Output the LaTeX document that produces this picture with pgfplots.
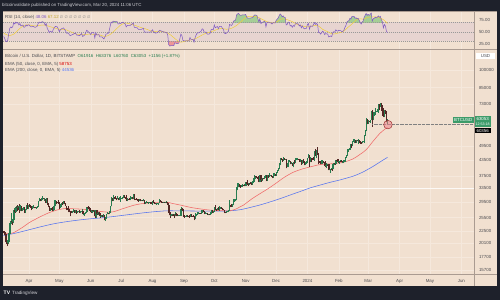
\documentclass[border=0pt]{standalone}
\usepackage{fontspec}
\setmainfont{Liberation Sans}
\newfontfamily\dejavu{DejaVu Sans}
\usepackage{pgfplots}
\pgfplotsset{compat=1.18}
\usepackage{pgfplotstable}
\definecolor{frame}{RGB}{30,33,43}
\definecolor{bg}{RGB}{241,224,208}
\definecolor{gridc}{RGB}{245,232,220}
\definecolor{sepc}{RGB}{170,155,145}
\definecolor{txt}{RGB}{75,75,80}
\definecolor{upc}{RGB}{40,125,80}
\definecolor{dnc}{RGB}{85,40,38}
\definecolor{emar}{RGB}{240,105,105}
\definecolor{emab}{RGB}{85,115,240}
\definecolor{rsic}{RGB}{126,87,194}
\definecolor{smac}{RGB}{240,205,60}
\definecolor{bandc}{RGB}{231,212,208}
\definecolor{lblg}{RGB}{60,155,105}
\definecolor{obc}{RGB}{165,205,150}
\definecolor{osc}{RGB}{238,150,150}
\definecolor{circd}{RGB}{150,40,40}
\definecolor{circf}{RGB}{240,130,140}
\definecolor{toptxt}{RGB}{205,205,210}
\definecolor{bottxt}{RGB}{215,215,220}

\pgfplotstableread{
d o h l c
-25 22420 22550 21930 22200
-24 22200 22270 21600 21700
-23 21700 21830 19960 20360
-22 20360 20370 19570 20190
-21 20190 20800 19900 20630
-20 20630 22200 20400 22160
-19 22160 24500 21900 24200
-18 24200 26500 24100 24750
-17 24750 25250 23900 24380
-16 24380 25200 24200 25050
-15 25050 27750 25000 27450
-14 27450 27730 26640 26970
-13 26970 28470 26900 28040
-12 28040 28530 27160 27800
-11 27800 28470 27360 28180
-10 28180 28830 26640 27300
-9 27300 28770 27160 28330
-8 28330 28380 27030 27490
-7 27490 27800 27160 27490
-6 27490 28200 27450 28000
-5 28000 28030 26600 27140
-4 27140 27500 26680 27270
-3 27270 28650 27250 28350
-2 28350 29170 27730 28030
-1 28030 28650 27550 28480
0 28480 28800 28280 28450
1 28450 28520 27880 28200
2 28200 28480 27300 27800
3 27800 28440 27650 28170
4 28170 28780 27820 28180
5 28180 28190 27740 28040
6 28040 28100 27770 27930
7 27930 28160 27890 27960
8 27960 28500 27880 28340
9 28340 29750 28200 29650
10 29650 30480 29600 30240
11 30240 30420 29700 29900
12 29900 30580 29800 30400
13 30400 31000 29950 30490
14 30490 30620 30240 30320
15 30320 30550 29800 30320
16 30320 30340 29300 29440
17 29440 30480 29120 30400
18 30400 30440 28660 28820
19 28820 29100 28050 28250
20 28250 28380 27150 27270
21 27270 27880 27150 27820
22 27820 27850 27350 27590
23 27590 28000 27050 27510
24 27510 28400 27030 28300
25 28300 30000 27320 28420
26 28420 29880 28380 29470
27 29470 29600 28900 29340
28 29340 29460 29100 29250
29 29250 29960 29100 29230
30 29230 29330 27700 28070
31 28070 28900 27900 28680
32 28680 29280 28150 29030
33 29030 29380 28680 28850
34 28850 29650 28800 29530
35 29530 29830 28800 28900
36 28900 29100 28320 28450
37 28450 28450 27300 27690
38 27690 27830 27360 27630
39 27630 28300 26800 27620
40 27620 27630 26750 26990
41 26990 27000 25820 26800
42 26800 27020 26700 26790
43 26790 27130 26600 26930
44 26930 27640 26750 27170
45 27170 27270 26630 27030
46 27030 27480 26620 27400
47 27400 27470 26400 26830
48 26830 27180 26630 26890
49 26890 27160 26850 27110
50 27110 27280 26700 26750
51 26750 27030 26560 26850
52 26850 27500 26820 27220
53 27220 27220 26100 26330
54 26330 26560 25880 26480
55 26480 26930 26350 26720
56 26720 26900 26600 26870
57 26870 28200 26850 28080
58 28080 28450 27560 27740
59 27740 28040 27600 27700
60 27700 27830 26850 27220
61 27220 27350 26620 26820
62 26820 27300 26520 27240
63 27240 27330 26960 27070
64 27070 27420 26960 27120
65 27120 27140 25420 25760
66 25760 27400 25380 27240
67 27240 27380 26150 26340
68 26340 26800 26230 26500
69 26500 26790 26320 26480
70 26480 26520 25400 25850
71 25850 26200 25630 25940
72 25940 26070 25700 25900
73 25900 26400 25760 25920
74 25920 26080 24850 25120
75 25120 25750 24800 25580
76 25580 26470 25200 26330
77 26330 26780 26300 26510
78 26510 26680 26280 26340
79 26340 26990 26280 26850
80 26850 28400 26650 28310
81 28310 30800 28300 30010
82 30010 30500 29600 29900
83 29900 31400 29830 30690
84 30690 30800 30260 30550
85 30550 31050 30280 30470
86 30470 30650 29930 30270
87 30270 31000 30220 30690
88 30690 30700 29900 30080
89 30080 30830 30040 30440
90 30440 31280 29500 30470
91 30470 30650 30330 30590
92 30590 30780 30200 30620
93 30620 31380 30570 31150
94 31150 31330 30640 30770
95 30770 30870 30200 30510
96 30510 31500 29850 29900
97 29900 30450 29730 30350
98 30350 30380 30060 30290
99 30290 30430 30100 30170
100 30170 31030 29950 30410
101 30410 30800 30300 30620
102 30620 30950 30210 30390
103 30390 31800 30260 31480
104 31480 31630 29960 30320
105 30320 30400 30250 30300
106 30300 30450 30100 30240
107 30240 30330 29700 30140
108 30140 30190 29530 29860
109 29860 30190 29780 29910
110 29910 30400 29600 29800
111 29800 30000 29740 29910
112 29910 29990 29700 29800
113 29800 30340 29630 30080
114 30080 30100 28900 29180
115 29180 29380 29070 29230
116 29230 29700 29100 29350
117 29350 29580 29080 29210
118 29210 29530 29130 29310
119 29310 29420 29260 29350
120 29350 29460 29030 29280
121 29280 29520 29100 29230
122 29230 29750 28600 29700
123 29700 30050 29100 29180
124 29180 29400 28950 29080
125 29080 29300 28850 28970
126 28970 29100 28950 29040
127 29040 29150 28800 29040
128 29040 29240 28700 29180
129 29180 30200 29130 29770
130 29770 30050 29380 29580
131 29580 29720 29350 29430
132 29430 29530 29350 29400
133 29400 29480 29370 29420
134 29420 29450 29260 29280
135 29280 29650 29100 29400
136 29400 29480 29080 29170
137 29170 29230 28700 28700
138 28700 28780 26100 26630
139 26630 26800 25350 26050
140 26050 26270 25800 26100
141 26100 26280 26000 26190
142 26190 26250 25880 26120
143 26120 26130 25360 26050
144 26050 26800 25800 26430
145 26430 26560 25860 26160
146 26160 26300 25780 26060
147 26060 26120 25970 26010
148 26010 26180 25990 26090
149 26090 26200 25880 26110
150 26110 28150 25930 27730
151 27730 27760 27050 27300
152 27300 27500 25700 25940
153 25940 26130 25350 25800
154 25800 25980 25650 25870
155 25870 26120 25800 25970
156 25970 26090 25610 25810
157 25810 25900 25580 25780
158 25780 26000 25390 25750
159 25750 26430 25620 26240
160 26240 26400 25650 25910
161 25910 25950 25800 25900
162 25900 26030 25600 25830
163 25830 25860 24900 25160
164 25160 26550 25150 25840
165 25840 26400 25760 26230
166 26230 26800 26130 26530
167 26530 26870 26240 26610
168 26610 26670 26470 26570
169 26570 26640 26410 26530
170 26530 27400 26400 26760
171 26760 27480 26680 27210
172 27210 27380 26800 27130
173 27130 27160 26350 26570
174 26570 26730 26500 26580
175 26580 26640 26520 26580
176 26580 26720 26210 26250
177 26250 26420 26000 26300
178 26300 26380 26100 26220
179 26220 26850 26120 26370
180 26370 27250 26330 27020
181 27020 27230 26660 26910
182 26910 27090 26880 26970
183 26970 28040 26950 27990
184 27990 28600 27320 27510
185 27510 27660 27170 27430
186 27430 27850 27250 27800
187 27800 28130 27380 27420
188 27420 28280 27180 27950
189 27950 28000 27870 27970
190 27970 28120 27750 27940
191 27940 27980 27300 27600
192 27600 27720 27250 27390
193 27390 27480 26570 26880
194 26880 26930 26560 26760
195 26760 27100 26700 26860
196 26860 26990 26820 26860
197 26860 27290 26820 27160
198 27160 30000 27120 28520
199 28520 28620 28120 28420
200 28420 28950 28150 28330
201 28330 28920 28180 28720
202 28720 30200 28620 29680
203 29680 30330 29470 29920
204 29920 30200 29680 29990
205 29990 34000 29920 33090
206 33090 35200 32900 33920
207 33920 35000 33700 34500
208 34500 34830 33700 34150
209 34150 34500 33500 33910
210 33910 34480 33880 34090
211 34090 34750 34000 34540
212 34540 34850 34050 34500
213 34500 34720 34080 34650
214 34650 35550 34100 35420
215 35420 35960 34360 34940
216 34940 34940 34100 34730
217 34730 35250 34550 35080
218 35080 35380 34700 35050
219 35050 35280 34560 35040
220 35040 35900 34570 35430
221 35430 35980 35130 35650
222 35650 37950 35560 36700
223 36700 37520 36400 37320
224 37320 37400 36770 37140
225 37140 37250 36770 37070
226 37070 37420 36400 36490
227 36490 36770 35350 35550
228 35550 37980 35380 37880
229 37880 37930 35560 36170
230 36170 36850 35940 36600
231 36600 36850 36320 36580
232 36580 37500 36400 37380
233 37380 37770 36880 37470
234 37470 37670 35750 35810
235 35810 37830 35700 37420
236 37420 37660 36890 37290
237 37290 38400 37250 37720
238 37720 37880 37600 37790
239 37790 37840 37200 37450
240 37450 37600 36740 37240
241 37240 38400 36900 37830
242 37830 38420 37600 37850
243 37850 38150 37530 37720
244 37720 38990 37610 38690
245 38690 39700 38650 39460
246 39460 40200 39300 39980
247 39980 42400 39980 41980
248 41980 44400 41400 44080
249 44080 44300 43350 43770
250 43770 44050 42800 43290
251 43290 44700 43100 44170
252 44170 44350 43600 43720
253 43720 44040 43600 43790
254 43790 43800 40250 41240
255 41240 42100 40700 41450
256 41450 43400 40650 42890
257 42890 43400 42500 43020
258 43020 43080 41700 41940
259 41940 42700 41750 42260
260 42260 42430 41260 41360
261 41360 42750 40550 42660
262 42660 43450 41850 42270
263 42270 44250 42220 43660
264 43660 44340 43300 43870
265 43870 44350 43320 43990
266 43990 44000 43600 43740
267 43740 43950 42800 43020
268 43020 43700 42800 43610
269 43610 43630 41650 42520
270 42520 43650 41800 43440
271 43440 43820 42300 42590
272 42590 43100 41300 42070
273 42070 42600 41550 42140
274 42140 42900 41980 42280
275 42280 44200 42200 44180
276 44180 45900 44180 44950
277 44950 45500 40750 42850
278 42850 44750 42650 44180
279 44180 44400 42600 44160
280 44160 44250 43400 43970
281 43970 44500 43600 43940
282 43940 47200 43200 46970
283 46970 47900 45000 46110
284 46110 47700 44300 46630
285 46630 48970 45600 46340
286 46340 46500 41750 42890
287 42890 43250 42450 42850
288 42850 43080 41730 41730
289 41730 43400 41720 42510
290 42510 43580 42050 43150
291 43150 43200 42200 42740
292 42740 42930 40700 41260
293 41260 42150 40300 41620
294 41620 41800 41500 41660
295 41660 41880 41400 41580
296 41580 41700 39450 39570
297 39570 40120 38550 39890
298 39890 40500 39500 40080
299 40080 40300 39300 39940
300 39940 42200 39830 41820
301 41820 42200 41400 42120
302 42120 42850 41650 42030
303 42030 43300 41800 43300
304 43300 43850 42700 42950
305 42950 43700 42300 42580
306 42580 43250 41880 43080
307 43080 43400 42600 43190
308 43190 43500 42900 43010
309 43010 43100 42200 42580
310 42580 43500 42250 42700
311 42700 43400 42600 43090
312 43090 44500 42750 44350
313 44350 45600 44300 45300
314 45300 48200 45250 47150
315 47150 48150 46800 47770
316 47770 48550 47550 48290
317 48290 50300 47800 49960
318 49960 50400 48350 49700
319 49700 52000 49300 51800
320 51800 52800 51350 51940
321 51940 52600 50650 52120
322 52120 52200 51000 51650
323 51650 52400 51100 52140
324 52140 52500 51700 51780
325 51780 53000 50600 52260
326 52260 52380 50850 51850
327 51850 52000 50600 51300
328 51300 51570 50500 50740
329 50740 51600 50700 51570
330 51570 51950 51250 51730
331 51730 54900 50900 54490
332 54490 57600 54450 57050
333 57050 64000 56700 62500
334 62500 63600 60400 61200
335 61200 63200 60800 62440
336 62440 62500 61600 62030
337 62030 63200 61300 63150
338 63150 68500 62800 68330
339 68330 69200 59000 63800
340 63800 67600 62800 66110
341 66110 68000 65500 66930
342 66930 70100 66100 68300
343 68300 68700 67900 68500
344 68500 70000 67800 69020
345 69020 72800 67200 72120
346 72120 72900 68800 71480
347 71480 73600 71300 73100
348 73100 73700 68600 71400
349 71400 72400 65600 69400
350 69400 70600 64600 65300
351 65300 68900 64600 68390
352 68390 68900 66600 67600
353 67600 68100 61500 61930
354 61916 63376 60760 63053
}\candles

\pgfplotstableread{
d r
-25 40
-24 36
-23 30
-22 29
-21 33
-20 46
-19 57
-18 60
-17 58
-16 61
-15 69
-14 66
-13 70
-12 68
-11 69
-10 64
-9 67
-8 62
-6 64
-5 59
-4 60
-3 64
-2 62
-1 64
0 64
2 60
4 61
6 59
8 61
9 67
10 70
12 69
13 71
15 69
16 63
17 67
18 57
19 53
20 48
21 51
23 49
24 55
26 61
28 60
30 50
31 54
32 56
34 58
36 52
37 47
39 47
40 43
41 42
44 45
46 47
47 43
50 42
52 46
53 40
55 43
57 53
58 51
60 47
61 44
62 48
64 48
65 37
66 48
67 43
69 44
70 39
72 39
74 35
75 39
76 45
78 46
79 50
80 60
81 70
82 68
83 72
85 71
87 71
88 66
90 67
93 70
95 66
96 60
97 63
100 63
103 68
104 59
107 58
108 55
111 55
113 57
114 49
117 49
120 49
122 54
123 49
125 47
127 48
129 53
131 51
134 49
136 48
137 43
138 23
139 20
140 21
142 21
143 21
144 27
146 25
148 26
150 45
151 42
152 32
153 31
156 31
158 31
159 38
160 34
162 34
163 28
164 37
165 43
166 47
168 48
170 51
171 56
172 55
173 49
175 49
176 45
178 45
179 47
180 55
182 54
183 64
184 58
186 61
187 56
188 61
190 61
191 57
192 55
193 47
194 46
195 47
197 51
198 65
199 64
200 63
201 66
202 72
203 73
204 74
205 85
206 87
207 88
208 85
209 84
211 85
213 85
214 86
215 80
216 78
218 78
220 79
221 80
222 83
223 85
225 84
226 78
227 70
228 77
229 67
230 69
232 71
233 72
234 60
235 69
237 70
239 68
240 66
241 69
243 68
244 73
245 76
246 78
247 83
248 87
249 85
250 81
251 83
252 80
253 80
254 64
255 65
256 70
257 70
258 62
259 63
260 59
261 63
262 61
263 66
264 67
266 66
267 62
268 64
269 58
270 62
271 58
272 56
274 57
275 65
276 67
277 55
278 62
280 61
282 69
283 65
284 67
285 65
286 48
287 48
288 45
289 48
290 51
291 49
292 44
293 46
295 45
296 39
297 40
298 41
299 40
300 48
301 50
302 49
303 54
304 52
305 51
306 53
308 52
309 50
310 51
311 53
312 59
313 63
314 70
315 72
316 73
317 78
318 76
319 82
320 82
321 82
322 78
323 79
324 77
325 78
326 74
327 70
328 66
329 70
330 72
331 80
332 84
333 88
334 84
335 86
336 84
337 86
338 89
339 72
340 77
341 78
342 80
343 79
344 80
345 83
346 80
347 82
348 75
349 71
350 58
351 65
352 62
353 51
354 48.06
}\rsidata

\newcommand{\fs}{\fontsize{4.4}{5}\selectfont}
\pgfplotsset{candle/.style={only marks, mark=*, mark size=0pt, mark options={draw=none, fill=none}, forget plot}}

\begin{document}
\begin{tikzpicture}[font=\fs]
\path[use as bounding box] (0,0) rectangle (500pt,300pt);
\fill[frame] (0,0) rectangle (500pt,300pt);
\fill[bg] (3pt,14pt) rectangle (497pt,289pt);

% ---------------- RSI panel ----------------
\begin{axis}[at={(3pt,251pt)}, anchor=south west, scale only axis,
  width=471pt, height=38pt,
  xmin=-25.68, xmax=439.5, ymin=13.96, ymax=93.1,
  axis line style={draw=none}, major tick length=0pt,
  xtick={0,30,61,91,122,153,183,214,244,275,306,335,366,396,427},
  xticklabels={}, xmajorgrids, grid style={gridc, line width=0.4pt},
  ytick={25,50,75}, yticklabels={25.00,50.00,75.00},
  yticklabel pos=right,
  yticklabel style={anchor=west, font=\fs, text=txt, xshift=1.5pt},
  clip=true]
  \fill[bandc] (axis cs:-30,30) rectangle (axis cs:445,70);
  \begin{scope}
    \clip (axis cs:-30,70) rectangle (axis cs:445,100);
    \addplot[fill=obc, draw=none, forget plot] table[x=d, y=r] {\rsidata} \closedcycle;
  \end{scope}
  \begin{scope}
    \clip (axis cs:-25,0) rectangle (axis cs:354,30);
    \fill[osc] (axis cs:-25,0) rectangle (axis cs:354,30);
    \addplot[fill=bg, draw=none, forget plot] table[x=d, y=r] {\rsidata} \closedcycle;
  \end{scope}
  \draw[gray!80, line width=0.35pt, dash pattern=on 1pt off 1pt] (axis cs:-30,70) -- (axis cs:445,70);
  \draw[gray!80, line width=0.35pt, dash pattern=on 1pt off 1pt] (axis cs:-30,50) -- (axis cs:445,50);
  \draw[gray!80, line width=0.35pt, dash pattern=on 1pt off 1pt] (axis cs:-30,30) -- (axis cs:445,30);
  \addplot[smac, line width=0.5pt, smooth] coordinates {
   (-25,47) (-20,42) (-15,45) (-10,55) (-5,63) (0,64) (5,62) (10,63) (15,64) (20,61)
   (25,58) (30,55) (35,55) (40,51) (45,46) (50,44) (55,44) (60,45) (65,44) (70,43)
   (75,40) (80,44) (85,53) (90,63) (95,68) (100,66) (105,63) (110,59) (115,56) (120,52)
   (125,50) (130,50) (135,49) (140,43) (145,34) (150,28) (155,31) (160,33) (165,36) (170,42)
   (175,47) (180,50) (185,54) (190,57) (195,55) (200,57) (205,63) (210,72) (215,81) (220,82)
   (225,81) (230,76) (235,71) (240,68) (245,71) (250,77) (255,75) (260,71) (265,65) (270,62)
   (275,60) (280,62) (285,63) (290,55) (295,50) (300,45) (305,47) (310,50) (315,59) (320,68)
   (325,77) (330,76) (335,80) (340,81) (345,80) (350,75) (354,67.12)};
  \addplot[rsic, line width=0.5pt] table[x=d, y=r] {\rsidata};
\end{axis}

% ---------------- Price panel ----------------
\begin{axis}[at={(3pt,26pt)}, anchor=south west, scale only axis,
  width=471pt, height=224pt,
  xmin=-25.68, xmax=439.5, ymode=log, ymin=15125, ymax=120340,
  axis line style={draw=none}, major tick length=0pt,
  xtick={0,30,61,91,122,153,183,214,244,275,306,335,366,396,427},
  xticklabels={Apr,May,Jun,Jul,Aug,Sep,Oct,Nov,Dec,2024,Feb,Mar,Apr,May,Jun},
  xticklabel style={anchor=center, yshift=-7pt, font=\fs, text=txt},
  ytick={15700,17700,20100,22500,25500,29500,33500,37500,43500,49500,73000,85000,100000},
  yticklabels={15700,17700,20100,22500,25500,29500,33500,37500,43500,49500,73000,85000,100000},
  yticklabel pos=right,
  yticklabel style={anchor=west, font=\fs, text=txt, xshift=1.5pt},
  grid=major, grid style={gridc, line width=0.4pt},
  clip=true]
  \draw[white, opacity=0.75, line width=0.5pt] (axis cs:-30,33500) -- (axis cs:445,33500);
  \addplot[emab, line width=0.55pt, smooth] coordinates {
   (-25,21600) (-15,22000) (-5,22500) (4,23000) (15,23600) (25,24100) (37,24550) (50,24950)
   (60,25200) (70,25400) (80,25650) (90,25950) (103,26350) (115,26700) (125,26950) (136,27150)
   (145,27150) (162,27100) (180,27050) (195,27100) (205,27300) (212,27600) (220,28100) (228,28650)
   (236,29300) (245,30100) (253,30900) (261,31750) (270,32700) (278,33600) (288,34500) (298,35400)
   (305,35950) (311,36500) (320,37400) (327,38400) (333,39500) (340,41000) (346,42500) (350,43500)
   (354,44536)};
  \addplot[emar, line width=0.55pt, smooth] coordinates {
   (-25,22150) (-20,21950) (-15,22200) (-10,22800) (-5,23500) (0,24300) (5,24950) (10,25550)
   (15,26150) (20,26700) (25,27150) (30,27500) (37,27750) (45,27650) (53,27550) (60,27350)
   (70,27000) (80,26800) (86,27100) (91,27550) (97,28050) (103,28550) (110,28950) (120,29250)
   (130,29400) (137,29400) (142,29050) (150,28600) (160,28000) (170,27600) (180,27300) (190,27200)
   (197,27150) (203,27450) (208,28100) (212,28650) (220,30300) (228,31800) (236,33300) (245,35300)
   (252,37000) (261,38800) (270,40000) (278,40800) (288,41700) (296,41900) (305,42200) (311,42600)
   (320,43900) (327,45800) (333,47800) (340,51800) (346,55300) (350,57200) (354,58753)};
  % wicks
  \addplot[candle, restrict expr to domain={\thisrow{c}-\thisrow{o}}{0:1000000},
    error bars/.cd, y dir=plus, y explicit, error mark=none,
    error bar style={draw=upc, line width=0.3pt}]
    table[x=d, y=l, y error expr=\thisrow{h}-\thisrow{l}] {\candles};
  \addplot[candle, restrict expr to domain={\thisrow{o}-\thisrow{c}}{0.5:1000000},
    error bars/.cd, y dir=plus, y explicit, error mark=none,
    error bar style={draw=dnc, line width=0.3pt}]
    table[x=d, y=l, y error expr=\thisrow{h}-\thisrow{l}] {\candles};
  % bodies
  \addplot[candle, restrict expr to domain={\thisrow{c}-\thisrow{o}}{0:1000000},
    error bars/.cd, y dir=plus, y explicit, error mark=none,
    error bar style={draw=upc, line width=0.8pt}]
    table[x=d, y=o, y error expr=\thisrow{c}-\thisrow{o}] {\candles};
  \addplot[candle, restrict expr to domain={\thisrow{o}-\thisrow{c}}{0.5:1000000},
    error bars/.cd, y dir=plus, y explicit, error mark=none,
    error bar style={draw=dnc, line width=0.8pt}]
    table[x=d, y=c, y error expr=\thisrow{o}-\thisrow{c}] {\candles};
  \draw[gray, line width=0.4pt, dash pattern=on 0.6pt off 0.7pt] (axis cs:339,60300) -- (axis cs:445,60300);
  \draw[circd, line width=0.45pt, fill=circf, fill opacity=0.55] (axis cs:354.5,60300) circle[radius=4.3pt];
\end{axis}

% ---------------- frame lines ----------------
\draw[sepc, line width=0.6pt] (3pt,250.5pt) -- (497pt,250.5pt);
\draw[sepc, line width=0.5pt] (3pt,26pt) -- (497pt,26pt);
\draw[sepc, line width=0.4pt] (3pt,288.8pt) -- (497pt,288.8pt);
\draw[sepc, line width=0.5pt] (474pt,14pt) -- (474pt,289pt);

% ---------------- texts ----------------
\node[anchor=west, text=toptxt, inner sep=0pt] at (2pt,294.5pt)
  {bitcoinvalidate published on TradingView.com, Mar 20, 2024 11:06 UTC};
\node[anchor=west, inner sep=0pt] at (5pt,283pt)
  {\textcolor{txt}{RSI (14, close)}\ \textcolor{rsic}{48.06}\ \textcolor{smac!80!black}{67.12}\ \textcolor{gray}{\dejavu\fontsize{3.8}{4}\selectfont ∅ ∅ ∅ ∅ ∅ ∅ ∅}};
\node[anchor=west, inner sep=0pt] at (5pt,244pt)
  {\textcolor{txt}{Bitcoin / U.S. Dollar, 1D, BITSTAMP}\ \ \textcolor{upc}{O61916\ \ H63376\ \ L60760\ \ C63053\ \ +1156 (+1.87\%)}};
\node[anchor=west, inner sep=0pt] at (5pt,236pt)
  {\textcolor{txt}{EMA (50, close, 0, EMA, 5)}\ \textcolor{red!85!black}{58753}};
\node[anchor=west, inner sep=0pt] at (5pt,229.3pt)
  {\textcolor{txt}{EMA (200, close, 0, EMA, 5)}\ \textcolor{emab}{44536}};
% USD box
\fill[white] (476pt,240.7pt) rectangle (495pt,247.3pt);
\node[text=txt] at (485.5pt,244pt) {USD};
% price labels
\fill[lblg] (453pt,177pt) rectangle (473.5pt,183pt);
\node[white, inner sep=0pt] at (463.2pt,180pt) {BTCUSD};
\fill[lblg] (474.5pt,173pt) rectangle (491pt,184pt);
\node[white, inner sep=0pt] at (482.7pt,180.8pt) {63053};
\node[white, inner sep=0pt, font=\fontsize{3.6}{4}\selectfont] at (482.7pt,176pt) {12:53:18};
\fill[black] (474.5pt,166.5pt) rectangle (491pt,171.5pt);
\node[white, inner sep=0pt] at (482.7pt,169pt) {60356};
% bottom logo
\node[anchor=west, white, inner sep=0pt, font=\bfseries\fontsize{5}{5}\selectfont] at (3.5pt,7pt) {TV};
\node[anchor=west, text=bottxt, inner sep=0pt, font=\fontsize{4.6}{5}\selectfont] at (12pt,7pt) {TradingView};
\end{tikzpicture}
\end{document}
